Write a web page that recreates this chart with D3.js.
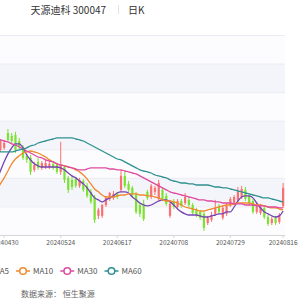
<!DOCTYPE html>
<html>
<head>
<meta charset="utf-8">
<script src="https://cdn.jsdelivr.net/npm/d3@7/dist/d3.min.js"></script>
<style>
  body{margin:0;background:#fff;}
  svg text{font-family:"Noto Sans CJK SC","Noto Sans",sans-serif;}
</style>
</head>
<body>
<script>
// trading days shown on the category axis
const dates = ["20240424","20240425","20240426","20240429","20240430",
  "20240506","20240507","20240508","20240509","20240510","20240513","20240514","20240515","20240516","20240517",
  "20240520","20240521","20240522","20240523","20240524","20240527","20240528","20240529","20240530","20240531",
  "20240603","20240604","20240605","20240606","20240607","20240611","20240612","20240613","20240614","20240617",
  "20240618","20240619","20240620","20240621","20240624","20240625","20240626","20240627","20240628",
  "20240701","20240702","20240703","20240704","20240705","20240708","20240709","20240710","20240711","20240712",
  "20240715","20240716","20240717","20240718","20240719","20240722","20240723","20240724","20240725","20240726",
  "20240729","20240730","20240731","20240801","20240802","20240805","20240806","20240807","20240808","20240809",
  "20240812","20240813","20240814","20240815","20240816"]
const tickDates = ["20240430","20240524","20240617","20240708","20240729","20240816"]

// OHLC
const open  = [5.98,5.70,5.91,5.98,6.05,6.57,6.47,6.50,6.29,6.08, 5.77,5.70,5.28,5.56,5.35,5.38,5.38,5.49,5.45,5.21,
               5.38,5.00,4.93,4.96,4.72,4.89,4.72,4.51,4.33,3.67, 3.67,4.05,4.26,4.30,4.44,4.58,5.07,4.79,4.65,4.44,
               4.05,4.09,4.51,4.33,4.51,4.26,4.58,4.37,3.67,4.19, 3.98,4.19,4.12,4.23,4.05,3.88,3.81,3.74,3.42,3.53,
               3.74,4.02,3.60,3.74,4.05,4.12,4.23,4.33,4.58,4.37, 4.19,3.81,3.77,3.95,3.63,3.42,3.60,3.46,4.02]
const close = [5.80,5.98,6.12,6.29,6.22,6.33,6.29,5.98,6.08,5.70, 5.63,5.21,5.45,5.35,5.52,5.52,5.49,5.35,5.21,5.42,
               4.93,4.58,4.68,4.72,4.93,4.58,4.37,4.16,3.53,3.88, 4.05,4.30,4.47,4.44,4.33,5.07,4.72,4.58,4.40,3.81,
               3.74,3.56,4.30,4.72,4.65,4.82,4.26,4.09,4.09,3.98, 4.19,4.02,4.33,4.05,3.77,3.70,3.60,3.25,3.60,3.70,
               3.95,3.81,3.95,4.02,4.26,4.33,4.51,4.61,4.26,4.12, 3.81,4.05,3.98,3.63,3.39,3.56,3.42,3.70,4.65]
const low   = [5.73,5.63,5.84,5.91,5.98,6.26,6.22,5.87,6.01,5.63, 5.52,5.10,5.21,5.28,5.28,5.31,5.31,5.28,5.14,5.10,
               4.82,4.47,4.58,4.65,4.65,4.51,4.30,4.09,3.42,3.56, 3.60,3.98,4.19,4.23,4.26,4.51,4.65,4.51,4.33,3.74,
               3.63,3.49,4.23,4.26,4.40,4.19,4.19,4.02,3.60,3.91, 3.91,3.95,4.05,3.98,3.70,3.63,3.53,3.14,3.35,3.46,
               3.67,3.74,3.53,3.67,3.98,4.05,4.16,4.26,4.19,4.05, 3.74,3.74,3.70,3.56,3.32,3.35,3.35,3.39,3.95]
const high  = [6.08,6.05,6.19,6.36,6.33,6.71,6.57,6.61,6.40,6.15, 5.84,5.80,5.56,5.70,5.59,5.63,5.56,5.56,5.52,6.26,
               5.45,5.07,5.07,5.03,5.00,4.96,4.82,4.61,4.40,3.95, 4.09,4.37,4.51,4.54,4.51,5.28,5.21,4.89,4.72,4.51,
               4.12,4.23,4.58,4.79,4.72,4.93,4.65,4.47,4.23,4.26, 4.26,4.26,4.47,4.30,4.12,3.95,3.88,3.81,3.67,3.81,
               4.23,4.09,4.05,4.12,4.33,4.40,4.68,4.72,4.68,4.44, 4.26,4.12,4.09,4.02,3.70,3.63,3.67,3.77,4.82]

// moving averages
const ma5  = [4.40,4.65,4.93,5.24,5.56,5.84,6.05,6.19,6.19,6.05, 5.80,5.63,5.49,5.42,5.38,5.38,5.38,5.38,5.38,5.35,
              5.28,5.17,5.07,5.00,4.89,4.79,4.65,4.47,4.30,4.23, 4.16,4.23,4.30,4.37,4.47,4.51,4.51,4.47,4.33,4.23,
              4.12,4.05,4.02,4.05,4.12,4.19,4.23,4.23,4.16,4.05, 3.91,3.81,3.74,3.70,3.70,3.70,3.67,3.63,3.63,3.67,
              3.70,3.74,3.74,3.81,3.81,3.98,4.19,4.33,4.37,4.37, 4.30,4.12,3.95,3.81,3.74,3.67,3.63,3.67,3.84]
const ma10 = [4.05,4.30,4.58,4.79,5.00,5.24,5.49,5.66,5.77,5.87, 5.91,5.94,5.91,5.87,5.80,5.73,5.63,5.56,5.49,5.45,
              5.42,5.38,5.35,5.28,5.21,5.10,4.96,4.79,4.61,4.51, 4.40,4.33,4.33,4.33,4.37,4.40,4.40,4.44,4.44,4.44,
              4.40,4.40,4.37,4.37,4.33,4.30,4.23,4.19,4.19,4.16, 4.12,4.05,3.98,3.95,3.91,3.88,3.84,3.84,3.88,3.91,
              3.95,3.98,4.02,4.05,4.05,4.09,4.12,4.12,4.12,4.12, 4.09,4.05,4.05,4.02,3.98,3.95,3.95,3.91,3.88]
const ma30 = [6.43,6.40,6.36,6.33,6.29,6.26,6.19,6.15,6.08,6.01, 5.94,5.87,5.80,5.73,5.70,5.63,5.59,5.56,5.49,5.45,
              5.42,5.38,5.35,5.31,5.28,5.28,5.31,5.35,5.35,5.35, 5.35,5.35,5.31,5.31,5.28,5.28,5.24,5.21,5.17,5.14,
              5.07,5.00,4.93,4.86,4.79,4.72,4.65,4.58,4.51,4.47, 4.44,4.40,4.37,4.33,4.30,4.26,4.23,4.23,4.19,4.19,
              4.16,4.16,4.12,4.12,4.12,4.09,4.09,4.09,4.05,4.05, 4.05,4.02,4.02,4.02,3.98,3.98,3.98,3.95,3.95]
const ma60 = [5.87,5.87,5.91,5.91,5.91,5.91,5.91,5.94,5.98,6.01, 6.05,6.12,6.15,6.22,6.26,6.29,6.33,6.36,6.40,6.40,
              6.40,6.40,6.40,6.36,6.33,6.29,6.22,6.15,6.08,6.01, 5.94,5.87,5.80,5.73,5.66,5.63,5.56,5.49,5.42,5.35,
              5.28,5.24,5.21,5.17,5.10,5.07,5.03,5.00,4.93,4.89, 4.86,4.82,4.82,4.79,4.79,4.75,4.75,4.75,4.75,4.72,
              4.68,4.68,4.65,4.65,4.61,4.58,4.54,4.51,4.47,4.44, 4.40,4.37,4.33,4.30,4.30,4.26,4.23,4.19,4.16]

const maNames = ["MA5","MA10","MA30","MA60"]
const maColors = ["#7443b3","#ef8a2e","#df4aa0","#2f9090"]
const maData = [ma5, ma10, ma30, ma60]

const w = 300, h = 300
const svg = d3.select("body").append("svg").attr("width", w).attr("height", h)

// title
svg.append("text").attr("x", 30.5).attr("y", 13.5).attr("font-size", "10px").attr("fill", "#333")
   .text("天源迪科 300047")
svg.append("line").attr("x1", 118.5).attr("x2", 118.5).attr("y1", 5).attr("y2", 14)
   .attr("stroke", "#e2e2e2")
svg.append("text").attr("x", 128).attr("y", 13.5).attr("font-size", "10px").attr("fill", "#333")
   .text("日K")

// scales
let x = d3.scaleBand().domain(dates).range([-12.8, 285]).padding(0)
let y = d3.scaleLinear().domain([3, 10]).range([235, 35])
let cx = d => x(d) + x.bandwidth()/2

// split areas + lines
let yt = y.ticks(7)
let bands = yt.slice(0, -1)
svg.append("g").selectAll("rect").data(bands).join("rect")
   .attr("x", -20).attr("width", 305)
   .attr("y", d => y(d+1)).attr("height", d => y(d) - y(d+1))
   .attr("fill", d => (d % 2 == 0) ? "#f4f5fa" : "#fcfcfe")
svg.append("g").selectAll("line").data(yt.slice(1)).join("line")
   .attr("x1", -20).attr("x2", 285)
   .attr("y1", d => y(d)+0.5).attr("y2", d => y(d)+0.5)
   .attr("stroke", "#ebebf3")

// x axis
let xAxis = svg.append("g").attr("transform", "translate(0," + y(3) + ")")
   .call(d3.axisBottom(x).tickValues(tickDates).tickSize(3).tickSizeOuter(0))
xAxis.select(".domain").attr("stroke", "#d6d6d6")
xAxis.selectAll(".tick line").attr("stroke", "#d6d6d6")
xAxis.selectAll(".tick text").attr("fill", "#555").attr("font-size", "6.5px").attr("dy", "0.6em")
   .attr("font-family", "'Noto Sans', sans-serif")

// candles
let idx = d3.range(dates.length)
let up = i => close[i] >= open[i]
let red = "#fb7070", green = "#7ae230"
let bw = 2.2
let candles = svg.append("g")
candles.selectAll("line").data(idx).join("line")
   .attr("x1", i => cx(dates[i])).attr("x2", i => cx(dates[i]))
   .attr("y1", i => y(high[i])).attr("y2", i => y(low[i]))
   .attr("stroke", i => up(i) ? red : green).attr("stroke-width", 1)
candles.selectAll("rect").data(idx).join("rect")
   .attr("x", i => cx(dates[i]) - bw/2).attr("width", bw)
   .attr("y", i => y(Math.max(open[i], close[i])))
   .attr("height", i => Math.max(1, Math.abs(y(open[i]) - y(close[i]))))
   .attr("fill", i => up(i) ? red : green)

// moving average lines
let line = d3.line().curve(d3.curveMonotoneX)
   .x((v, i) => cx(dates[i])).y(v => y(v))
svg.append("g").selectAll("path").data(maData).join("path")
   .attr("d", d => line(d))
   .attr("fill", "none")
   .attr("stroke", (d, i) => maColors[i])
   .attr("stroke-width", 1.3)

// legend: items laid out left to right, MA10 icon starts at x=16
let lg = svg.append("g").selectAll("g").data(maNames).join("g")
lg.append("line").attr("x1", 0).attr("x2", 14).attr("y1", 271).attr("y2", 271)
   .attr("stroke", (d, i) => maColors[i]).attr("stroke-width", 1.5)
lg.append("circle").attr("cx", 7).attr("cy", 271).attr("r", 3.3).attr("fill", "#fff")
   .attr("stroke", (d, i) => maColors[i]).attr("stroke-width", 1.5)
lg.append("text").attr("x", 17).attr("y", 274).attr("font-size", "8px").attr("fill", "#555")
   .attr("font-family", "'Noto Sans', sans-serif")
   .text(d => d)
let widths = []
lg.select("text").each(function(){ widths.push(this.getComputedTextLength()) })
let pos = [0, 16]
pos[0] = 16 - 7 - widths[0] - 17
for (let i = 2; i < maNames.length; i++) pos[i] = pos[i-1] + 17 + widths[i-1] + 7
lg.attr("transform", (d, i) => "translate(" + pos[i] + ",0)")

// source
svg.append("text").attr("x", 21).attr("y", 296.5).attr("font-size", "8px").attr("fill", "#666")
   .text("数据来源： 恒生聚源")
</script>
</body>
</html>
